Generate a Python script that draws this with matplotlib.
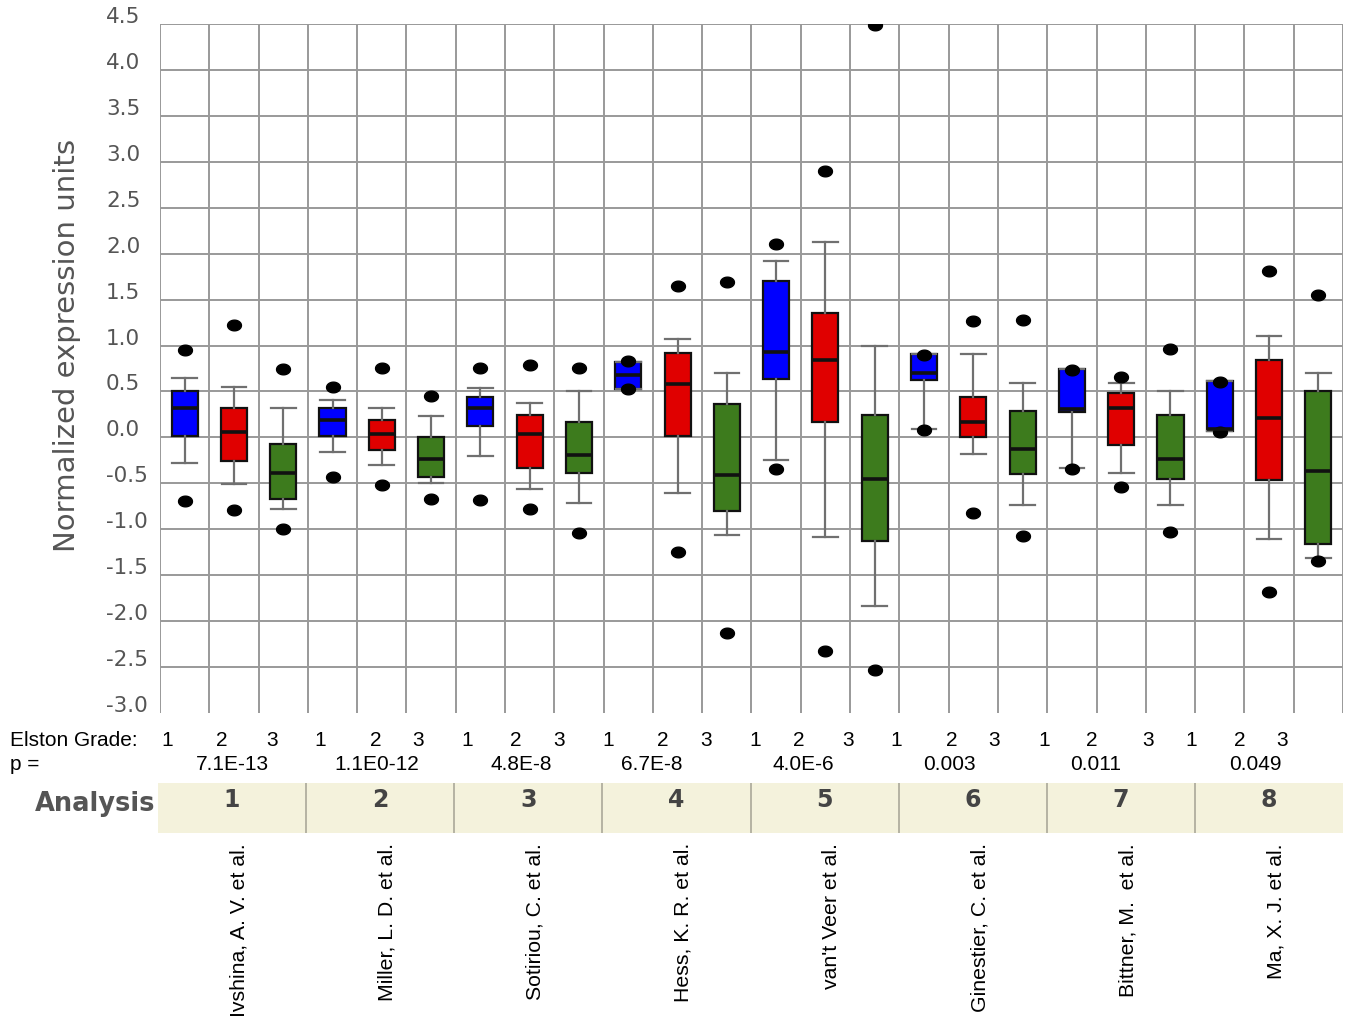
import numpy as np
import matplotlib.pyplot as plt
from matplotlib.path import Path
from matplotlib.transforms import offset_copy

# ---- data -------------------------------------------------------------
studies = ["Ivshina, A. V. et al.", "Miller, L. D. et al.", "Sotiriou, C. et al.",
           "Hess, K. R. et al.", "van't Veer et al.", "Ginestier, C. et al.",
           "Bittner, M.  et al.", "Ma, X. J. et al."]
p_values = ["7.1E-13", "1.1E0-12", "4.8E-8", "6.7E-8", "4.0E-6", "0.003", "0.011", "0.049"]
grades = [1, 2, 3]

# one entry per box: analysis 1 grade 1, grade 2, grade 3, analysis 2 ...
whis_lo = [-0.28, -0.51, -0.78, -0.16, -0.30, -0.50, -0.20, -0.56, -0.71, 0.53, -0.60, -1.06,
           -0.25, -1.08, -1.83, 0.09, -0.18, -0.74, -0.33, -0.39, -0.74, 0.07, -1.11, -1.31]
q1 = [0.01, -0.26, -0.67, 0.01, -0.14, -0.43, 0.12, -0.33, -0.39, 0.53, 0.01, -0.80,
      0.64, 0.17, -1.13, 0.62, 0.00, -0.40, 0.28, -0.08, -0.45, 0.07, -0.46, -1.16]
med = [0.32, 0.06, -0.39, 0.19, 0.04, -0.24, 0.32, 0.04, -0.19, 0.68, 0.58, -0.41,
       0.93, 0.84, -0.45, 0.70, 0.17, -0.13, 0.31, 0.32, -0.23, 0.09, 0.21, -0.37]
q3 = [0.51, 0.32, -0.07, 0.32, 0.19, 0.00, 0.44, 0.24, 0.17, 0.82, 0.92, 0.36,
      1.70, 1.35, 0.24, 0.91, 0.44, 0.29, 0.74, 0.48, 0.24, 0.61, 0.84, 0.50]
whis_hi = [0.65, 0.55, 0.32, 0.41, 0.32, 0.23, 0.54, 0.37, 0.50, 0.82, 1.07, 0.70,
           1.92, 2.13, 1.00, 0.91, 0.91, 0.59, 0.74, 0.59, 0.50, 0.61, 1.10, 0.70]
fliers = [[0.95, -0.69], [1.22, -0.79], [0.74, -1.00], [0.55, -0.43], [0.76, -0.52], [0.45, -0.67],
          [0.76, -0.68], [0.79, -0.78], [0.76, -1.04], [0.83, 0.53], [1.65, -1.25], [1.69, -2.13],
          [2.10, -0.34], [2.90, -2.33], [4.49, -2.53], [0.90, 0.08], [1.27, -0.82], [1.28, -1.07],
          [0.73, -0.34], [0.66, -0.54], [0.96, -1.03], [0.60, 0.06], [1.81, -1.68], [1.55, -1.35]]

grade_colors = {1: "#0000ff", 2: "#e00000", 3: "#3d7b1d"}

# ---- layout (pixels) --------------------------------------------------
W, H = 1348, 1022
fx = lambda px: px / W
fy = lambda py: 1 - py / H

fig = plt.figure(figsize=(W / 100, H / 100), dpi=100)
ax = fig.add_axes([fx(160), fy(713), fx(1343) - fx(160), fy(24) - fy(713)])

n = len(med)
positions = np.arange(1, n + 1)
stats = [dict(whislo=whis_lo[i], q1=q1[i], med=med[i], q3=q3[i], whishi=whis_hi[i],
              fliers=fliers[i]) for i in range(n)]

# slightly flattened dot for the outliers
t = np.linspace(0, 2 * np.pi, 40)
dot = Path(np.column_stack([1.3 * np.cos(t), np.sin(t)]), closed=True)

bp = ax.bxp(stats, positions=positions, widths=0.53, capwidths=0.5, patch_artist=True,
            boxprops=dict(edgecolor="#111111", linewidth=1.6),
            medianprops=dict(color="#111111", linewidth=2.6),
            whiskerprops=dict(color="#707070", linewidth=1.6),
            capprops=dict(color="#707070", linewidth=1.6),
            flierprops=dict(marker=dot, markersize=10, markerfacecolor="black",
                            markeredgecolor="black"),
            zorder=3)
for i, box in enumerate(bp["boxes"]):
    box.set_facecolor(grade_colors[grades[i % 3]])

ax.set_xlim(0.5, n + 0.5)
ax.set_ylim(-3.0, 4.5)
yticks = np.arange(-3.0, 4.51, 0.5)
for x in np.arange(0.5, n + 1, 1.0):
    ax.axvline(x, color="#999999", lw=1.4, zorder=1)
for y in yticks[1:]:
    ax.axhline(y, color="#999999", lw=1.4, zorder=1)
for s in ax.spines.values():
    s.set_visible(False)
ax.set_xticks([])
ax.set_yticks([])

# y tick labels, left aligned and sitting a little above their grid line
lab_tr = offset_copy(ax.get_yaxis_transform(), fig=fig, x=0, y=7, units="dots")
for y in yticks:
    ax.text((106 - 160) / 1183, y, f"{y:.1f}", transform=lab_tr, ha="left", va="center",
            fontsize=15.5, color="#555555", family="DejaVu Sans")

fig.text(fx(67), fy(345), "Normalized expression units", rotation=90, ha="center",
         va="center", fontsize=21, color="#555555", family="DejaVu Sans")

# ---- grade / p-value rows --------------------------------------------
row_font = dict(fontsize=15, family="Liberation Sans", color="black")
grade_x_px = [167, 222, 272, 320, 376, 418, 467, 516, 559, 608, 663, 706,
              755, 799, 848, 896, 952, 994, 1044, 1092, 1148, 1191, 1240, 1282]
pval_x_px = [232, 377, 521, 652, 803, 949, 1096, 1255]

fig.text(fx(10), fy(740), "Elston Grade:", ha="left", va="center", **row_font)
for i, px in enumerate(grade_x_px):
    fig.text(fx(px), fy(740), str(grades[i % 3]), ha="center", va="center", **row_font)
fig.text(fx(10), fy(764), "p =", ha="left", va="center", **row_font)
for px, pv in zip(pval_x_px, p_values):
    fig.text(fx(px), fy(764), pv, ha="center", va="center", **row_font)

# ---- analysis band ---------------------------------------------------
band = fig.add_axes([fx(158), fy(833), fx(1343) - fx(158), fy(783) - fy(833)])
band.set_facecolor("#f4f2dc")
band.set_xlim(0.5, n + 0.5)
band.set_ylim(0, 1)
band.set_xticks([])
band.set_yticks([])
for s in band.spines.values():
    s.set_visible(False)
for x in np.arange(3.5, n, 3.0):
    band.axvline(x, color="#b5b3a3", lw=1.4)
group_centers = positions.reshape(-1, 3)[:, 1]
for k, xc in enumerate(group_centers):
    band.text(xc, 0.66, str(k + 1), ha="center", va="center", fontsize=17,
              fontweight="bold", color="#444444", family="DejaVu Sans")
fig.text(fx(155), fy(804), "Analysis", ha="right", va="center", fontsize=18.5,
         fontweight="bold", color="#555555", family="DejaVu Sans")

# study names under each analysis
name_tr = offset_copy(band.get_xaxis_transform(), fig=fig, x=7, y=0, units="dots")
for xc, name in zip(group_centers, studies):
    band.text(xc, -0.2, name, transform=name_tr, rotation=90, ha="center", va="top",
              fontsize=15.3, family="Liberation Sans", color="black")

fig.savefig("out.png", dpi=100, facecolor="white")
